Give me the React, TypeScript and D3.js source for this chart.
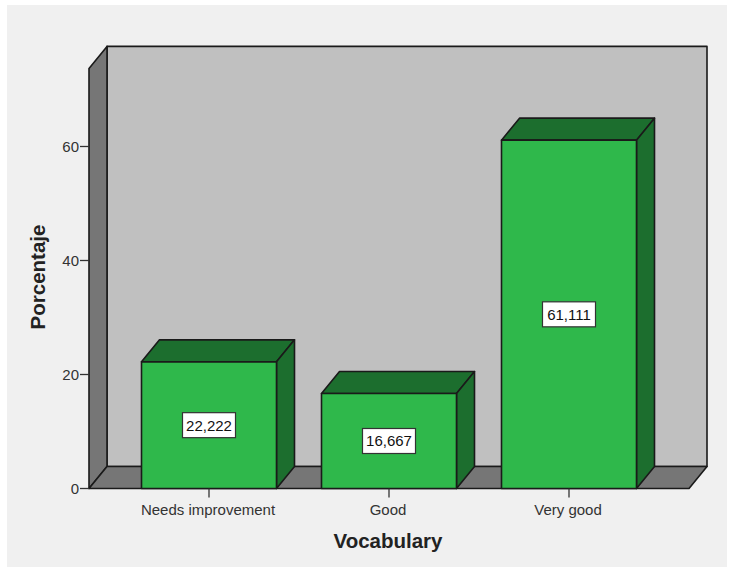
import * as d3 from "d3";
import { useEffect, useRef } from "react";

const categories = ["Needs improvement", "Good", "Very good"];
const percentages = [22.222, 16.667, 61.111];
const valueLabels = ["22,222", "16,667", "61,111"];
const yTicks = [0, 20, 40, 60];

const width = 734;
const height = 567;
const depthX = 18;
const depthY = -22;
const font = "Liberation Sans, Arial, sans-serif";
const edge = "#1a1a1a";

function App() {
    const ref = useRef<SVGSVGElement>(null);

    useEffect(() => {
        const svg = d3.select(ref.current);
        svg.selectAll("*").remove();

        const y = d3.scaleLinear().domain([0, 73.7]).range([488.5, 68.4]);
        const xFloor = d3.scaleLinear().domain([0, 1]).range([89, 689]);
        const x = d3.scaleBand().domain(categories).range([119, 659]).paddingInner(0.25).paddingOuter(0.125);

        const left = xFloor(0);
        const right = xFloor(1);
        const bottom = y(0);
        const top = y.range()[1];

        // image background
        svg.append("rect").attr("x", 7).attr("y", 5).attr("width", 720).attr("height", 562).attr("fill", "#f0f0f0");

        const poly = (pts: number[][], fill: string) =>
            svg.append("polygon")
                .attr("points", pts.map(p => p.join(",")).join(" "))
                .attr("fill", fill)
                .attr("stroke", edge)
                .attr("stroke-width", 1.6)
                .attr("stroke-linejoin", "round");

        // back wall, side wall, floor
        poly([[left + depthX, top + depthY], [right + depthX, top + depthY], [right + depthX, bottom + depthY], [left + depthX, bottom + depthY]], "#c0c0c0");
        poly([[left, top], [left + depthX, top + depthY], [left + depthX, bottom + depthY], [left, bottom]], "#767676");
        poly([[left, bottom], [left + depthX, bottom + depthY], [right + depthX, bottom + depthY], [right, bottom]], "#767676");

        // bars
        categories.forEach((c, i) => {
            const x0 = x(c) as number;
            const x1 = x0 + x.bandwidth();
            const yv = y(percentages[i]);
            poly([[x0, yv], [x0 + depthX, yv + depthY], [x1 + depthX, yv + depthY], [x1, yv]], "#1c6e2e");
            poly([[x1, yv], [x1 + depthX, yv + depthY], [x1 + depthX, bottom + depthY], [x1, bottom]], "#1c6e2e");
            poly([[x0, yv], [x1, yv], [x1, bottom], [x0, bottom]], "#2fb84b");
        });

        // value labels in white boxes
        categories.forEach((c, i) => {
            const cx = (x(c) as number) + x.bandwidth() / 2;
            const cy = y(percentages[i] / 2);
            svg.append("rect")
                .attr("x", cx - 26.5).attr("y", cy - 12.5).attr("width", 53).attr("height", 25)
                .attr("fill", "#ffffff").attr("stroke", "#333333").attr("stroke-width", 1.2);
            svg.append("text")
                .attr("x", cx).attr("y", cy + 5.5)
                .attr("text-anchor", "middle")
                .attr("font-family", font).attr("font-size", 15).attr("fill", "#111111")
                .text(valueLabels[i]);
        });

        // y axis
        yTicks.forEach(t => {
            svg.append("line")
                .attr("x1", left - 9).attr("x2", left)
                .attr("y1", y(t)).attr("y2", y(t))
                .attr("stroke", "#333333").attr("stroke-width", 1.3);
            svg.append("text")
                .attr("x", left - 10).attr("y", y(t) + 5.5)
                .attr("text-anchor", "end")
                .attr("font-family", font).attr("font-size", 15).attr("fill", "#333333")
                .text(t);
        });

        // x axis
        categories.forEach(c => {
            const cx = (x(c) as number) + x.bandwidth() / 2;
            svg.append("line")
                .attr("x1", cx).attr("x2", cx)
                .attr("y1", bottom).attr("y2", bottom + 9)
                .attr("stroke", "#333333").attr("stroke-width", 1.3);
            svg.append("text")
                .attr("x", cx - 1).attr("y", bottom + 26)
                .attr("text-anchor", "middle")
                .attr("font-family", font).attr("font-size", 15).attr("fill", "#333333")
                .text(c);
        });

        // axis titles
        svg.append("text")
            .attr("x", 388).attr("y", 548)
            .attr("text-anchor", "middle")
            .attr("font-family", font).attr("font-size", 20.5).attr("font-weight", "bold").attr("fill", "#222222")
            .text("Vocabulary");
        svg.append("text")
            .attr("transform", "translate(45,277) rotate(-90)")
            .attr("text-anchor", "middle")
            .attr("font-family", font).attr("font-size", 20.5).attr("font-weight", "bold").attr("fill", "#222222")
            .text("Porcentaje");
    }, []);

    return <svg ref={ref} width={width} height={height} style={{ position: "absolute", top: 0, left: 0, background: "#ffffff" }}></svg>;
}

export default App;
